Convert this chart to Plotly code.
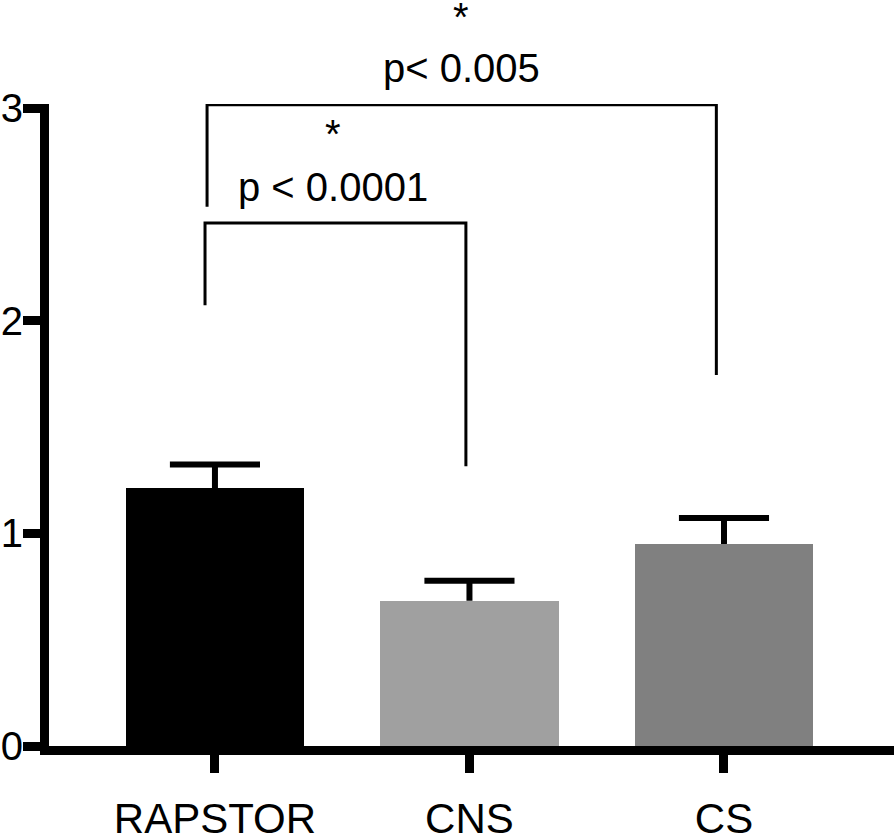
import plotly.graph_objects as go

# ---- data ----
categories = ["RAPSTOR", "CNS", "CS"]
means = [1.212, 0.683, 0.950]
sem = [0.112, 0.094, 0.122]
bar_colors = ["#000000", "#a0a0a0", "#808080"]
y_tick_vals = [0, 1, 2, 3]

# significance brackets: (from index, to index, left end, top, right end)
brackets = [
    (0, 1, 2.073, 2.459, 1.315),
    (0, 2, 2.536, 3.016, 1.745),
]
p_labels = ["p < 0.0001", "p< 0.005"]
p_label_y = [2.63, 3.19]
star_y = [2.88, 3.43]
p_label_x = [0.464, 0.967]

FONT = "Liberation Sans, Arial, Helvetica, sans-serif"
Y_MAX = 3.019
xpos = list(range(len(categories)))

fig = go.Figure()

fig.add_trace(go.Bar(
    x=xpos, y=means, width=0.70,
    marker=dict(color=bar_colors, line=dict(width=0)),
    showlegend=False, hoverinfo="skip",
))

# error bars (upper only), drawn as lines
cap_half = 0.177
ex, ey = [], []
for i, (m, e) in enumerate(zip(means, sem)):
    ex += [i, i, None, i - cap_half, i + cap_half, None]
    ey += [m, m + e, None, m + e, m + e, None]
fig.add_trace(go.Scatter(
    x=ex, y=ey, mode="lines",
    line=dict(color="black", width=6),
    showlegend=False, hoverinfo="skip", cliponaxis=False,
))

# brackets
nudge_l = [-0.039, -0.031]
nudge_r = [-0.014, -0.030]
for k, (a, b, yl, yt, yr) in enumerate(brackets):
    xl = a + nudge_l[k]
    xr = b + nudge_r[k]
    fig.add_trace(go.Scatter(
        x=[xl, xl, xr, xr], y=[yl, yt, yt, yr], mode="lines",
        line=dict(color="black", width=3),
        showlegend=False, hoverinfo="skip", cliponaxis=False,
    ))

# labels (paper y so that they may sit above the axis range)
for k in range(len(p_labels)):
    fig.add_annotation(x=p_label_x[k], y=p_label_y[k] / Y_MAX, xref="x", yref="paper",
                       xanchor="center", yanchor="middle",
                       text=p_labels[k], showarrow=False,
                       font=dict(family=FONT, size=40, color="black"))
    fig.add_annotation(x=p_label_x[k], y=star_y[k] / Y_MAX, xref="x", yref="paper",
                       xanchor="center", yanchor="middle",
                       text="*", showarrow=False,
                       font=dict(family=FONT, size=40, color="black"))

fig.update_layout(
    width=894, height=835,
    margin=dict(l=49, r=0, t=104, b=89),
    paper_bgcolor="white", plot_bgcolor="white",
    font=dict(family=FONT, size=40, color="black"),
    bargap=0,
)
fig.update_xaxes(
    range=[-0.652, 2.668], tickvals=xpos, ticktext=categories,
    showline=True, linewidth=9, linecolor="black",
    ticks="outside", ticklen=18, tickwidth=9, tickcolor="black",
    showgrid=False, zeroline=False, automargin=False,
    tickfont=dict(family=FONT, size=42, color="black"),
    ticklabelstandoff=10,
)
fig.update_yaxes(
    range=[0, Y_MAX], tickvals=y_tick_vals,
    showline=True, linewidth=9, linecolor="black",
    ticks="outside", ticklen=17, tickwidth=9, tickcolor="black",
    showgrid=False, zeroline=False, automargin=False,
    tickfont=dict(family=FONT, size=40, color="black"),
    ticklabelstandoff=-8,
)

fig.write_html(
    "out.html",
    config={"displayModeBar": False},
    post_script="document.body.style.margin='0';document.body.style.overflow='hidden';",
)
